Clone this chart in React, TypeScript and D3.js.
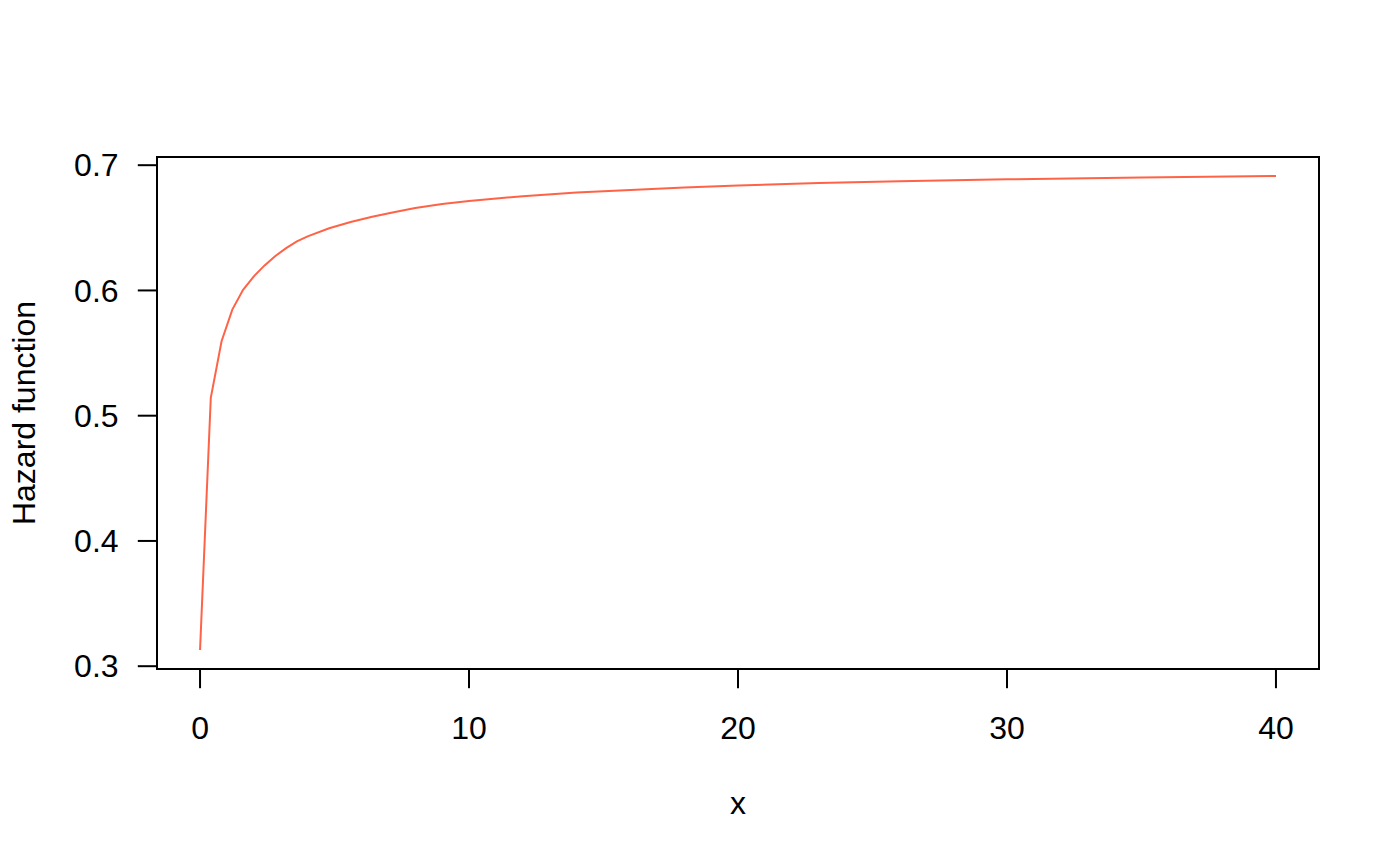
import * as React from 'react';
import * as d3 from 'd3';

// hazard curve
const xValues = [0, 0.4, 0.8, 1.2, 1.6, 2.0, 2.4, 2.8, 3.2, 3.6, 4.0, 4.8, 5.6, 6.4, 7.2, 8, 9, 10,
    12, 14, 16, 18, 20, 23, 26, 30, 35, 40];
const hazardValues = [0.3129, 0.5143, 0.5594, 0.5847, 0.6005, 0.6112, 0.6200, 0.6275, 0.6338, 0.6392,
    0.6432, 0.6497, 0.6546, 0.6588, 0.6625, 0.6658, 0.6690, 0.6715,
    0.6752, 0.6782, 0.6802, 0.6821, 0.6837, 0.6857, 0.6872, 0.6887, 0.6902, 0.6914];

const xTicks = [0, 10, 20, 30, 40];
const yTicks = [0.3, 0.4, 0.5, 0.6, 0.7];

const xLabel = 'x';
const yLabel = 'Hazard function';

const width = 1400;
const height = 866;
const font = '"Liberation Sans", Arial, Helvetica, sans-serif';
const fontSize = 32;
const lineH = 38.4; // one R margin line
const tick = 19.2;

// R style: extend the data range by 4% on each side
function padRange(ext: [number, number]): [number, number] {
    const d = (ext[1] - ext[0]) * 0.04;
    return [ext[0] - d, ext[1] + d];
}

export default function App() {
    const left = 157, right = 1319, top = 157, bottom = 669;

    const xScale = d3.scaleLinear()
        .domain(padRange(d3.extent(xValues) as [number, number]))
        .range([left, right]);
    const yScale = d3.scaleLinear()
        .domain(padRange(d3.extent(hazardValues) as [number, number]))
        .range([bottom, top]);

    const points: [number, number][] = xValues.map((x, i) => [x, hazardValues[i]]);
    const line = d3.line<[number, number]>()
        .x(d => xScale(d[0]))
        .y(d => yScale(d[1]));

    return (
        <svg width={width} height={height} style={{ position: 'absolute', left: 0, top: 0, display: 'block' }}
            fontFamily={font} fontSize={fontSize}>
            <rect width={width} height={height} fill="white" />

            <path d={line(points) || ''} fill="none" stroke="#FF6347" strokeWidth={2} />

            <rect x={left} y={top} width={right - left} height={bottom - top}
                fill="none" stroke="black" strokeWidth={2} />

            {/* x axis */}
            <line x1={xScale(xTicks[0])} x2={xScale(xTicks[xTicks.length - 1])} y1={bottom} y2={bottom}
                stroke="black" strokeWidth={2} />
            {xTicks.map(t => (
                <g key={'x' + t}>
                    <line x1={xScale(t)} x2={xScale(t)} y1={bottom} y2={bottom + tick} stroke="black" strokeWidth={2} />
                    <text x={xScale(t)} y={bottom + 70} textAnchor="middle">{t}</text>
                </g>
            ))}

            {/* y axis */}
            <line x1={left} x2={left} y1={yScale(yTicks[0])} y2={yScale(yTicks[yTicks.length - 1])}
                stroke="black" strokeWidth={2} />
            {yTicks.map(t => (
                <g key={'y' + t}>
                    <line x1={left} x2={left - tick} y1={yScale(t)} y2={yScale(t)} stroke="black" strokeWidth={2} />
                    <text x={left - lineH} y={yScale(t)} dy="0.35em" textAnchor="end">{t.toFixed(1)}</text>
                </g>
            ))}

            <text x={(left + right) / 2} y={814} textAnchor="middle">{xLabel}</text>
            <text transform={`translate(35, ${(top + bottom) / 2}) rotate(-90)`} textAnchor="middle">{yLabel}</text>
        </svg>
    );
}
